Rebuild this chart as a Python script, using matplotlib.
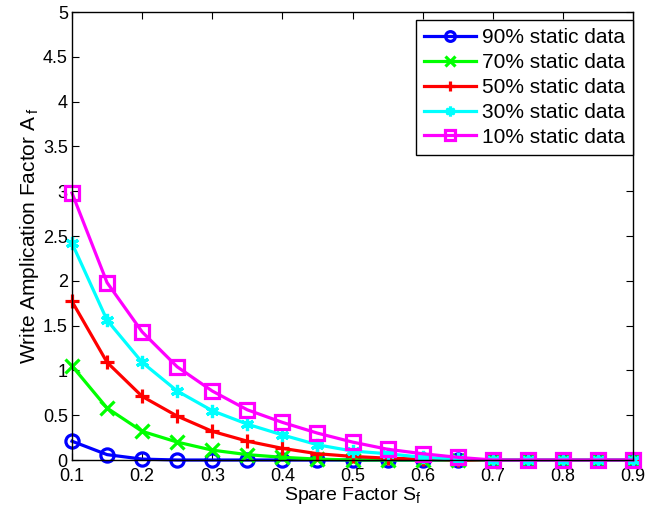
import numpy as np
import matplotlib
matplotlib.use("Agg")
import matplotlib.pyplot as plt

plt.rcParams['font.family'] = ['Liberation Sans', 'DejaVu Sans']
plt.rcParams['mathtext.fontset'] = 'custom'
plt.rcParams['mathtext.rm'] = 'Liberation Sans'
plt.rcParams['mathtext.it'] = 'Liberation Sans'

spare = [0.1, 0.15, 0.2, 0.25, 0.3, 0.35, 0.4, 0.45, 0.5, 0.55, 0.6, 0.65, 0.7, 0.75, 0.8, 0.85, 0.9]

wa_90 = [0.21, 0.06, 0.01, 0, 0, 0, 0, 0, 0, 0, 0, 0, 0, 0, 0, 0, 0]
wa_70 = [1.05, 0.58, 0.32, 0.20, 0.11, 0.06, 0.03, 0.01, 0, 0, 0, 0, 0, 0, 0, 0, 0]
wa_50 = [1.77, 1.09, 0.71, 0.49, 0.32, 0.21, 0.13, 0.07, 0.04, 0.02, 0.01, 0, 0, 0, 0, 0, 0]
wa_30 = [2.42, 1.56, 1.09, 0.77, 0.55, 0.40, 0.28, 0.17, 0.10, 0.07, 0.03, 0.01, 0, 0, 0, 0, 0]
wa_10 = [2.98, 1.98, 1.43, 1.04, 0.77, 0.56, 0.42, 0.30, 0.20, 0.12, 0.07, 0.03, 0, 0, 0, 0, 0]

labels = ["90% static data", "70% static data", "50% static data",
          "30% static data", "10% static data"]

fig = plt.figure(figsize=(6.63, 5.11), dpi=100)
ax = fig.add_axes([0.1086, 0.0998, 0.8462, 0.8767])

asterisk = (6, 2, 0)
styles = [
    (wa_90, "#0000ff", "o"),
    (wa_70, "#00ff00", "x"),
    (wa_50, "#ff0000", "+"),
    (wa_30, "#00ffff", asterisk),
    (wa_10, "#ff00ff", "s"),
]
for (vals, col, mk), lab in zip(styles, labels):
    ax.plot(spare, vals, color=col, lw=2.3, marker=mk, markersize=9.5,
            markeredgewidth=2.3, markerfacecolor="none", markeredgecolor=col,
            label=lab, clip_on=False)

ax.set_xlim(0.1, 0.9)
ax.set_ylim(0, 5)
ax.set_xticks(np.arange(0.1, 0.91, 0.1))
ax.set_xticklabels(["0.1", "0.2", "0.3", "0.4", "0.5", "0.6", "0.7", "0.8", "0.9"])
ax.set_yticks(np.arange(0, 5.01, 0.5))
ax.set_yticklabels(["0", "0.5", "1", "1.5", "2", "2.5", "3", "3.5", "4", "4.5", "5"])
ax.tick_params(direction="in", top=True, right=True, labelsize=13, length=5)
ax.tick_params(axis="x", pad=6)
ax.tick_params(axis="y", pad=3)
for s in ax.spines.values():
    s.set_linewidth(1.0)

ax.set_xlabel(r"Spare Factor S$_\mathregular{f}$", fontsize=14, labelpad=0)
ax.set_ylabel(r"Write Amplication Factor A$\,_\mathregular{f}$", fontsize=15, labelpad=1)

leg = ax.legend(loc="upper right", bbox_to_anchor=(1.0, 1.0 - 8 / 448),
                fontsize=15, fancybox=False, framealpha=1,
                edgecolor="black", handlelength=2.5, borderaxespad=0,
                labelspacing=0.28, handletextpad=0.25, borderpad=0.4)
leg.get_frame().set_linewidth(1.0)
for h in leg.legend_handles:
    h.set_markersize(7)

plt.savefig("out.png", dpi=100)
